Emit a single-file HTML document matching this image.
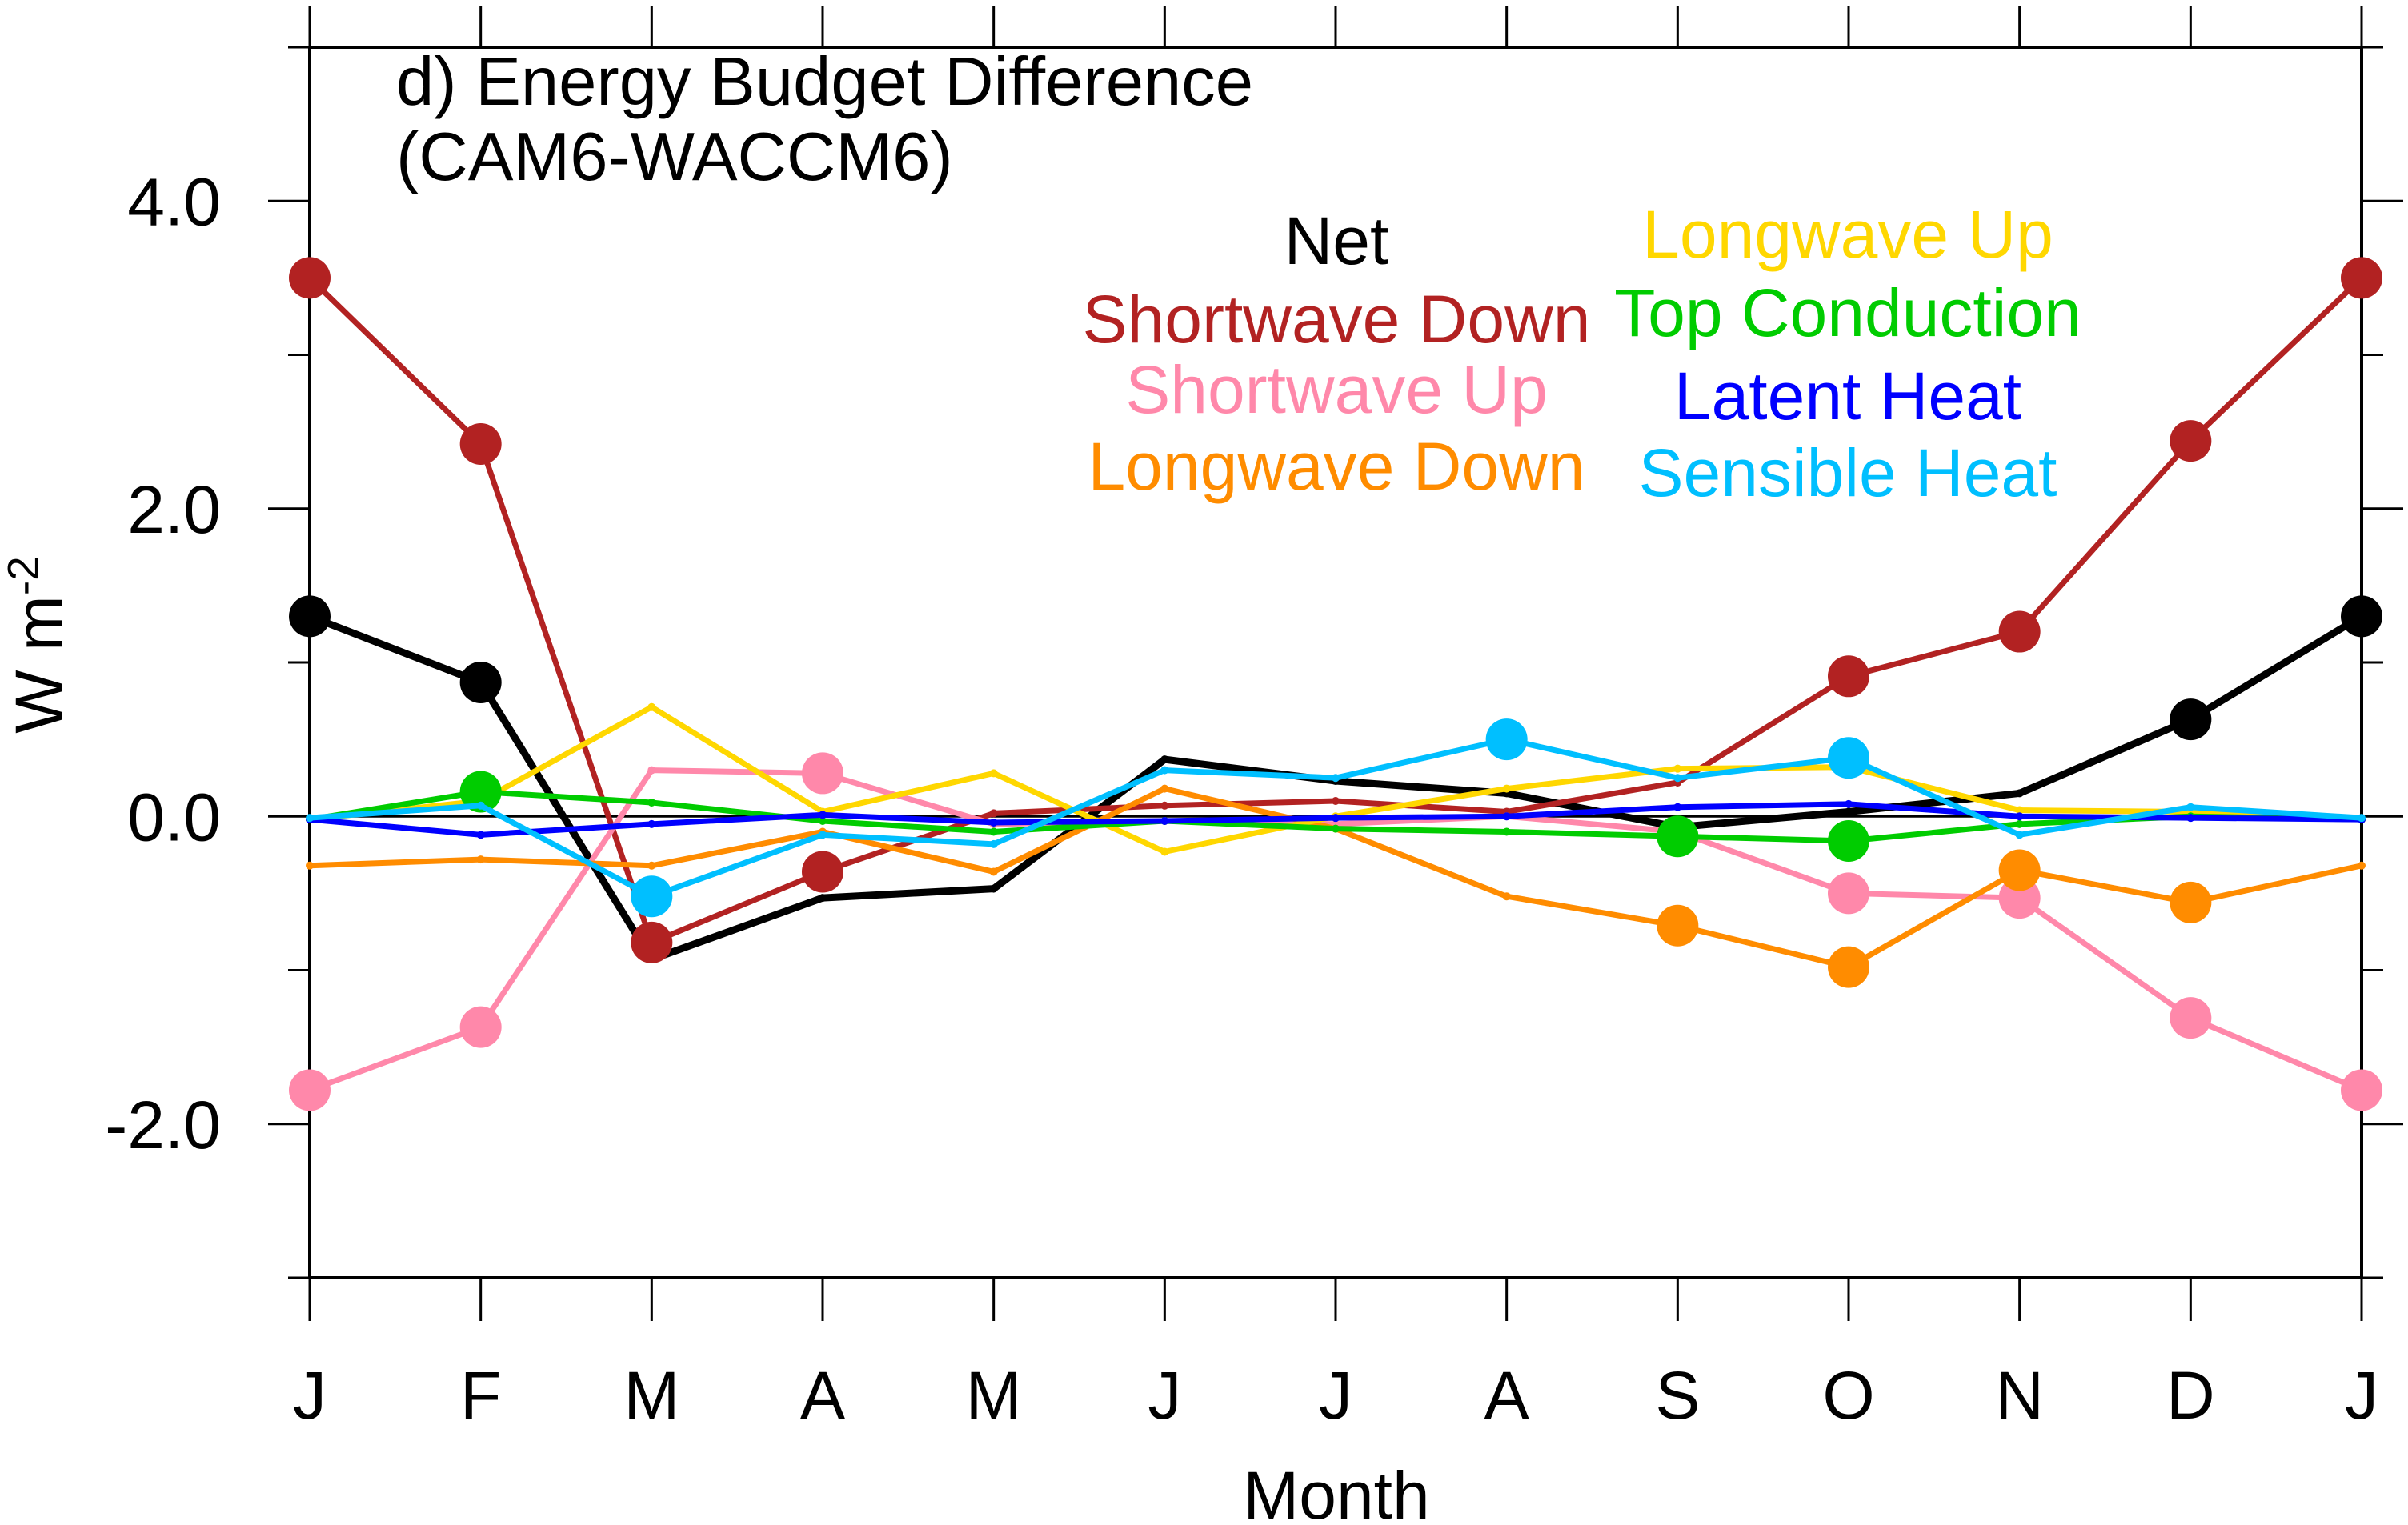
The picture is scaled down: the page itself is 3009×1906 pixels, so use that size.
<!DOCTYPE html>
<html><head><meta charset="utf-8"><style>
html,body{margin:0;padding:0;background:#fff;}
svg{display:block;font-family:"Liberation Sans",sans-serif;}
</style></head><body>
<svg id="chart" width="3009" height="1906" viewBox="0 0 3009 1906" xmlns="http://www.w3.org/2000/svg">
<g id="axes"></g>
<g id="series"></g>
<text x="495" y="131" font-size="85">d) Energy Budget Difference</text>
<text x="495" y="225" font-size="85">(CAM6-WACCM6)</text>
<text x="1670" y="1898" font-size="84" text-anchor="middle">Month</text>
<text transform="translate(78,806) rotate(-90)" font-size="84" text-anchor="middle">W m<tspan dy="-30" font-size="55">-2</tspan></text>
<g id="legend"></g>
</svg>
<script>
const months = ["J","F","M","A","M","J","J","A","S","O","N","D","J"];
const yTicks = [-2, 0, 2, 4];
const yTickLabels = ["-2.0","0.0","2.0","4.0"];
const yMinor = [-3, -1, 1, 3, 5];
const seriesNames = ["Net","Shortwave Down","Shortwave Up","Longwave Down","Longwave Up","Top Conduction","Latent Heat","Sensible Heat"];
const seriesColors = ["#000000","#B22222","#FF88AA","#FF8C00","#FFD700","#00CC00","#0000FF","#00BFFF"];
const netVals = [1.3,0.87,-0.93,-0.53,-0.47,0.37,0.23,0.15,-0.07,0.03,0.15,0.63,1.3];
const netSig  = [1,1,0,0,0,0,0,0,0,0,0,1,1];
const swdVals = [3.5,2.42,-0.82,-0.36,0.02,0.07,0.1,0.03,0.22,0.91,1.2,2.44,3.5];
const swdSig  = [1,1,1,1,0,0,0,0,0,1,1,1,1];
const swuVals = [-1.78,-1.37,0.3,0.28,-0.05,-0.03,-0.05,0.0,-0.1,-0.5,-0.53,-1.31,-1.78];
const swuSig  = [1,1,0,1,0,0,0,0,0,1,1,1,1];
const lwdVals = [-0.32,-0.28,-0.32,-0.1,-0.36,0.18,-0.08,-0.52,-0.71,-0.98,-0.35,-0.56,-0.32];
const lwdSig  = [0,0,0,0,0,0,0,0,1,1,1,1,0];
const lwuVals = [-0.02,0.1,0.71,0.03,0.28,-0.23,0.0,0.18,0.31,0.32,0.04,0.03,-0.02];
const lwuSig  = [0,0,0,0,0,0,0,0,0,0,0,0,0];
const tcVals  = [-0.02,0.16,0.09,-0.03,-0.1,-0.03,-0.08,-0.1,-0.13,-0.16,-0.05,0.0,-0.02];
const tcSig   = [0,1,0,0,0,0,0,0,1,1,0,0,0];
const lhVals  = [-0.02,-0.12,-0.05,0.01,-0.04,-0.03,-0.01,0.0,0.06,0.08,0.0,-0.01,-0.02];
const lhSig   = [0,0,0,0,0,0,0,0,0,0,0,0,0];
const shVals  = [-0.01,0.07,-0.52,-0.12,-0.18,0.3,0.25,0.5,0.25,0.38,-0.12,0.06,-0.01];
const shSig   = [0,0,1,0,0,0,0,1,0,1,0,0,0];

const allVals = [netVals,swdVals,swuVals,lwdVals,lwuVals,tcVals,lhVals,shVals];
const allSig = [netSig,swdSig,swuSig,lwdSig,lwuSig,tcSig,lhSig,shSig];

const L=387,R=2951,T=59,B=1597,yMin=-3,yMax=5;
const xScale=i=>L+i*(R-L)/(months.length-1);
const yScale=v=>B-(v-yMin)*(B-T)/(yMax-yMin);
const NS="http://www.w3.org/2000/svg";
function mk(tag,attrs,parent){const e=document.createElementNS(NS,tag);for(const k in attrs)e.setAttribute(k,attrs[k]);parent.appendChild(e);return e;}
const axes=document.getElementById('axes');
let z=mk('line',{x1:L,x2:R,y1:yScale(0),y2:yScale(0),stroke:'#000','stroke-width':3},axes);


let fr=mk('rect',{x:L,y:T,width:R-L,height:B-T,fill:'none',stroke:'#000','stroke-width':4},axes);


months.forEach((m,i)=>{
  const x=xScale(i);
  let t1=mk('line',{x1:x,x2:x,y1:B,y2:B+54,stroke:'#000','stroke-width':3},axes);
  
  
  let t2=mk('line',{x1:x,x2:x,y1:T,y2:T-52,stroke:'#000','stroke-width':3},axes);
  
  
  let tx=mk('text',{x:x,y:1773,'font-size':84,'text-anchor':'middle'},axes);
  tx.textContent=m;
  
  
});
yTicks.forEach((v,i)=>{
  const y=yScale(v);
  let a=mk('line',{x1:L-52,x2:L,y1:y,y2:y,stroke:'#000','stroke-width':3},axes);
  
  
  let b=mk('line',{x1:R,x2:R+52,y1:y,y2:y,stroke:'#000','stroke-width':3},axes);
  
  
  let t=mk('text',{x:276,y:y+30,'font-size':84,'text-anchor':'end'},axes);
  t.textContent=yTickLabels[i];
  
  
});
yMinor.forEach(v=>{
  const y=yScale(v);
  let a=mk('line',{x1:L-27,x2:L,y1:y,y2:y,stroke:'#000','stroke-width':3},axes);
  
  
  let b=mk('line',{x1:R,x2:R+27,y1:y,y2:y,stroke:'#000','stroke-width':3},axes);
  
  
});
const sg=document.getElementById('series');
allVals.forEach((vals,s)=>{
  const g=mk('g',{},sg);
  
  
  const pts=vals.map((v,i)=>xScale(i)+','+yScale(v)).join(' ');
  const pl=mk('polyline',{points:pts,fill:'none',stroke:seriesColors[s],'stroke-width':s===0?9:7,'stroke-linejoin':'round'},g);
  
  
  vals.forEach((v,i)=>{
    const c=mk('circle',{cx:xScale(i),cy:yScale(v),r:allSig[s][i]?26:5,fill:seriesColors[s]},g);
    
    
  });
});
const lg=document.getElementById('legend');
const legX=[1670,1670,1670,1670,2309,2309,2309,2309];
const legY=[330,428,516,612,322,420,524,620];
seriesNames.forEach((n,i)=>{
  const t=mk('text',{x:legX[i],y:legY[i],'font-size':84,'text-anchor':'middle',fill:seriesColors[i]},lg);
  t.textContent=n;
  
  
});
</script>
</body></html>
